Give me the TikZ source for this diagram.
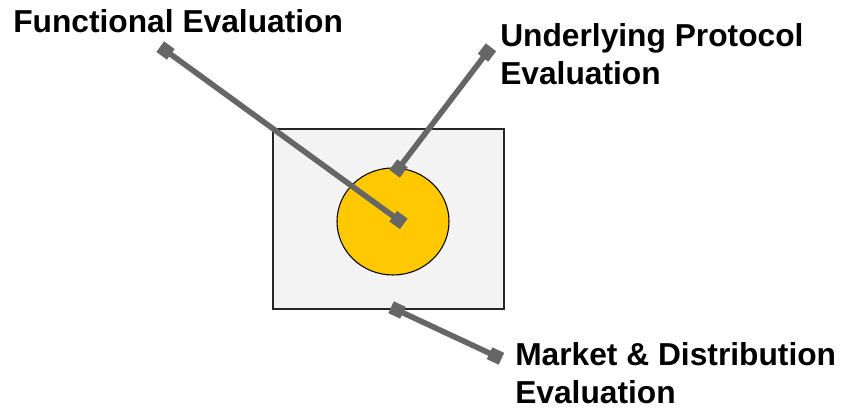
\documentclass[tikz,border=0pt]{standalone}
\usepackage{fontspec}
\setmainfont{Liberation Sans}
\usetikzlibrary{shapes.geometric}
\definecolor{conngray}{HTML}{666666}
\definecolor{boxfill}{HTML}{F3F3F3}
\definecolor{yolk}{HTML}{FFC800}
\begin{document}
\begin{tikzpicture}[x=0.75pt,y=-0.75pt,
  lbl/.style={font=\fontsize{23.8pt}{28.6pt}\selectfont\bfseries, inner sep=0pt, align=left, anchor=base west},
  conn/.style={draw=conngray, line width=4.2pt},
  endsq/.style={fill=conngray, draw=none, minimum size=9.8pt, inner sep=0pt, sloped, shape=rectangle},
]
\useasboundingbox (0,0) rectangle (841,409);
% outer box
\node[draw=black!85, line width=0.8pt, fill=boxfill, minimum width=173.25pt, minimum height=135pt, inner sep=0pt] (box) at (388.5,219) {};
% inner circle
\node[ellipse, draw=black, line width=0.8pt, fill=yolk, minimum width=84pt, minimum height=80.25pt, inner sep=0pt] (yolk) at (393,221.5) {};
% labels (multi-line labels anchored at the baseline of their last line)
\node[lbl] (func) at (13,33) {Functional Evaluation};
\node[lbl] (proto) at (500,85) {Underlying Protocol\\Evaluation};
\node[lbl] (market) at (515,403.5) {Market \& Distribution\\Evaluation};
% connector end points
\coordinate (fA) at (165.5,50.5);
\coordinate (fB) at (398.5,220);
\coordinate (pA) at (487,52.5);
\coordinate (pB) at (398.5,168.5);
\coordinate (mA) at (397,310);
\coordinate (mB) at (495.5,356);
% connectors
\draw[conn] (fA) -- (fB) node[endsq, pos=0] {} node[endsq, pos=1] {};
\draw[conn] (pA) -- (pB) node[endsq, pos=0] {} node[endsq, pos=1] {};
\draw[conn] (mA) -- (mB) node[endsq, pos=0] {} node[endsq, pos=1] {};
\end{tikzpicture}
\end{document}
